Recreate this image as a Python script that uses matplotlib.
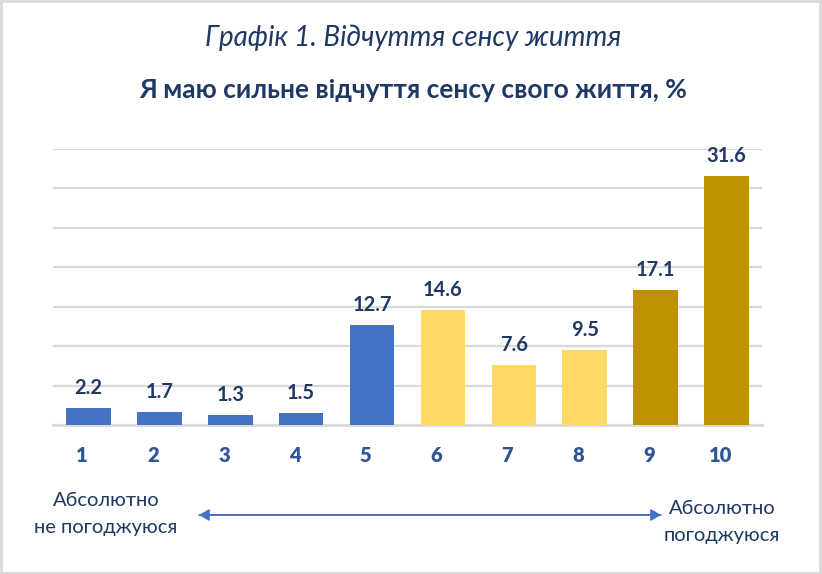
import matplotlib
matplotlib.use("Agg")
import matplotlib.pyplot as plt
from matplotlib.patches import Rectangle, FancyArrowPatch

plt.rcParams['font.family'] = ['Lato', 'DejaVu Sans']

categories = ["1", "2", "3", "4", "5", "6", "7", "8", "9", "10"]
values = [2.2, 1.7, 1.3, 1.5, 12.7, 14.6, 7.6, 9.5, 17.1, 31.6]
colors = ["#4472C4"] * 5 + ["#FFD966"] * 3 + ["#BF9000"] * 2
title1 = "Графік 1. Відчуття сенсу життя"
title2 = "Я маю сильне відчуття сенсу свого життя, %"
left_label = "Абсолютно\nне погоджуюся"
right_label = "Абсолютно\nпогоджуюся"

W, H = 822, 574
fig = plt.figure(figsize=(W / 100, H / 100), dpi=100)
ax = fig.add_axes([53 / W, 1 - 425 / H, 709 / W, 276 / H])

x = list(range(len(categories)))
ax.bar(x, values, width=0.63, color=colors, zorder=3)
ax.set_xlim(-0.5, len(categories) - 0.5)
ax.set_ylim(0, 35)
ax.set_yticks(range(0, 36, 5))
ax.yaxis.grid(True, color="#D9D9D9", linewidth=1.6, zorder=0)
ax.set_axisbelow(True)
for s in ["top", "right", "left"]:
    ax.spines[s].set_visible(False)
ax.spines["bottom"].set_color("#D9D9D9")
ax.spines["bottom"].set_linewidth(2)
ax.tick_params(axis="y", left=False, labelleft=False)
ax.tick_params(axis="x", bottom=False, labelbottom=False)

for xi, v in zip(x, values):
    ax.annotate(f"{v:.1f}", (xi, v), xytext=(0, 7), textcoords="offset points",
                ha="center", va="bottom", fontsize=14.5, fontweight="bold",
                color="#203864")

for xi, c in zip(x, categories):
    ax.annotate(c, (xi - 0.09, 0), xytext=(0, -22), textcoords="offset points",
                ha="center", va="center", fontsize=14.5, fontweight="heavy",
                color="#2F5597", annotation_clip=False)

fig.text(413 / W, 1 - 38 / H, title1, ha="center", va="center", fontsize=20,
         style="italic", color="#203864")
fig.text(413 / W, 1 - 90 / H, title2, ha="center", va="center", fontsize=19,
         fontweight="bold", color="#203864")

fig.text(106 / W, 1 - 514 / H, left_label, ha="center", va="center", fontsize=14.5,
         color="#203864", linespacing=1.65)
fig.text(722 / W, 1 - 522 / H, right_label, ha="center", va="center", fontsize=14.5,
         color="#203864", linespacing=1.65)

arrow = FancyArrowPatch((199 / W, 1 - 515 / H), (661 / W, 1 - 515 / H),
                        transform=fig.transFigure, arrowstyle="-|>,head_length=6,head_width=3.5",
                        color="#4472C4", linewidth=1.2, shrinkA=0, shrinkB=0)
fig.patches.append(arrow)
arrow2 = FancyArrowPatch((661 / W, 1 - 515 / H), (199 / W, 1 - 515 / H),
                         transform=fig.transFigure, arrowstyle="-|>,head_length=6,head_width=3.5",
                         color="#4472C4", linewidth=1.2, shrinkA=0, shrinkB=0)
fig.patches.append(arrow2)

fig.patches.append(Rectangle((0.001, 0.002), 0.997, 0.996, transform=fig.transFigure,
                             fill=False, edgecolor="#D9D9D9", linewidth=2))

fig.savefig("out.png", dpi=100, facecolor="white")
